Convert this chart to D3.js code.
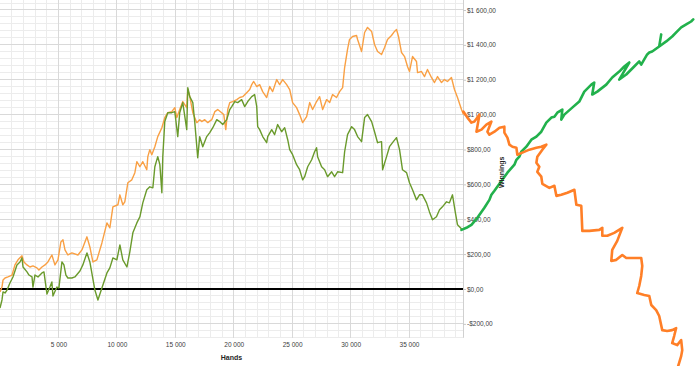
<!DOCTYPE html>
<html><head><meta charset="utf-8">
<script src="https://cdn.jsdelivr.net/npm/d3@7"></script>
<style>
html,body{margin:0;padding:0;background:#fff;}
svg{display:block;}
.tick text{font-family:"Liberation Sans",Arial,sans-serif;font-size:6.5px;fill:#404040;}
</style></head><body>
<svg id="c" width="700" height="366"></svg>
<script>
// ---- data ----
const orangeHands = [0,170,260,430,680,1030,1280,1540,1880,2050,2310,2560,2820,3160,3330,3590,3850,4100,4440,4700,4960,5210,5390,5560,5810,6150,6670,7010,7440,7690,7950,8290,8720,9150,9400,9660,10090,10260,10510,10680,10940,11280,11540,11710,11970,12220,12560,12650,12820,12990,13250,13500,13850,14100,14360,14700,14960,15130,15380,15640,15980,16070,16240,16500,16840,17090,17260,17520,17780,18120,18380,18630,18970,19150,19320,19490,19660,19910,20260,20510,20770,21110,21370,21540,21710,21970,22220,22480,22820,23080,23330,23680,23930,24190,24530,24790,25040,25380,25640,25900,26240,26500,26750,27090,27350,27610,27950,28210,28460,28800,29060,29320,29490,29740,29910,30170,30510,30600,30940,31200,31450,31800,32050,32310,32650,32910,33160,33500,33760,33930,34100,34360,34620,34870,35040,35300,35640,35730,36070,36330,36580,36920,37180,37440,37780,38030,38290,38630,38890,39150,39490,39660];
const orangeWin = [-17,11,52,63,69,80,138,167,190,155,138,126,132,121,109,126,138,155,195,138,167,270,282,224,195,207,195,224,299,241,155,167,264,379,351,471,483,540,483,500,609,626,667,730,701,730,684,759,799,770,816,874,925,983,1011,1017,1040,983,1029,1075,1040,1144,1103,1011,954,971,960,971,954,971,1017,1029,1011,1000,914,1029,1069,1075,1086,1098,1103,1126,1144,1172,1190,1161,1172,1132,1098,1161,1132,1201,1172,1201,1172,1144,1069,1040,1000,954,988,1069,1029,1075,1103,1029,1086,1069,1115,1098,1132,1155,1270,1374,1431,1448,1454,1431,1362,1471,1500,1477,1402,1362,1345,1385,1431,1454,1477,1488,1448,1356,1333,1276,1247,1333,1305,1241,1247,1218,1259,1213,1184,1218,1184,1201,1190,1213,1144,1098,1029,1000];

const greenHands = [0,170,260,430,600,850,1110,1450,1710,1880,1970,2310,2480,2740,2820,2990,3250,3590,3760,4020,4270,4440,4530,4870,5040,5300,5470,5640,5810,6150,6410,6840,7090,7440,7690,8120,8380,8720,9150,9400,9660,10000,10260,10510,10860,11110,11370,11710,11970,12220,12560,12820,13080,13250,13500,13680,13850,13930,14100,14360,14700,14960,15210,15380,15640,15980,16070,16240,16500,16670,16920,17090,17350,17690,17950,18210,18550,18800,19060,19400,19660,19830,20090,20340,20680,20940,21200,21540,21790,21970,22050,22220,22480,22820,22910,23250,23500,23760,24100,24360,24620,24790,25040,25380,25640,25900,26070,26330,26670,26920,27090,27180,27520,27780,28030,28380,28630,28890,29320,29490,29740,30090,30340,30600,30940,31200,31450,31800,32050,32310,32650,32740,33080,33330,33590,33930,34190,34440,34790,35040,35300,35640,35900,36150,36500,36750,37010,37350,37610,37860,38210,38460,38720,38970,39150,39400,39570];
const greenWin = [-109,-63,-17,-23,-6,34,69,138,155,178,126,98,80,69,11,80,69,92,98,-29,11,40,-40,11,6,155,138,80,63,63,69,103,138,207,155,-6,-63,6,92,121,178,167,253,167,126,213,322,379,414,494,569,586,580,701,759,713,552,759,960,1011,1011,1017,874,1011,1069,914,1155,1103,1069,954,753,874,816,874,897,925,971,960,943,971,1029,1046,1075,1069,1086,1046,1075,1103,1115,1046,931,914,874,839,874,914,885,943,902,925,856,799,770,713,684,626,644,701,741,787,810,759,701,684,644,672,644,672,667,787,885,931,914,874,845,983,1000,960,902,839,845,684,759,816,839,868,799,684,667,609,569,511,540,540,494,442,397,414,454,471,500,494,540,437,368,351,339];

const greenExtraHands = [39490,39910,40340,40850,41450,41880,42050,42310,42740,43420,44020,44190,44440,44610,45040,45470,45900,46320,46750,47180,47440,47690,48120,48030,48290,48970,49570,50000,50600,50850,50680,51110,51880,52390,52990,53420,53850,52990,53590,54270,54700,54870,55380,55560,55810,56410,56580,56410,57010,57520,57950,58290,58720,59140,59320];
const greenExtraWin = [339,351,368,408,466,511,540,563,603,667,713,741,759,787,816,856,874,902,954,983,988,1011,1029,971,1000,1040,1075,1132,1172,1184,1115,1132,1172,1213,1247,1276,1299,1201,1230,1276,1305,1287,1345,1356,1362,1391,1460,1391,1420,1448,1477,1500,1517,1534,1546];

const orangeExtraHands = [39660,40000,40340,40600,40850,41030,40770,41200,41620,42050,41710,41880,42310,42740,43160,43160,43420,43590,43850,44190,44270,44700,45300,45900,46320,46750,46410,45980,45900,46150,45980,46320,46410,47010,47440,47610,48030,48550,49150,49320,49740,49830,50430,51280,51540,51540,51970,52560,53250,52820,52390,52310,52740,53250,53590,54100,54870,54960,54870,54700,54530,55130,55560,55730,56150,56410,56670,57090,57520,57860,57690,57520,57950,58290,58380,58290,58030];
const orangeExtraWin = [1017,983,954,960,983,1000,902,914,943,960,902,885,902,925,931,897,868,828,816,810,770,782,799,810,816,828,799,759,724,701,672,644,603,580,592,534,540,552,569,483,477,333,333,339,351,305,305,322,351,276,224,161,167,195,178,178,178,132,75,17,-23,-34,-40,-92,-121,-155,-236,-241,-236,-224,-270,-310,-322,-293,-351,-385,-443];

const xTicks = [5000,10000,15000,20000,25000,30000,35000];
const yTicks = [-200,0,200,400,600,800,1000,1200,1400,1600];
const xDomain = [0, 39620];
const yDomain = [-280, 1680];
const xTitle = "Hands";
const yTitle = "Winnings";

// ---- layout ----
const plotL = 0, plotR = 463, plotT = -3.95, plotB = 337.8;
const x = d3.scaleLinear().domain(xDomain).range([plotL, plotR]);
const y = d3.scaleLinear().domain(yDomain).range([plotB, plotT]);
const svg = d3.select("#c");

const loc = d3.formatLocale({decimal:",", thousands:" ", grouping:[3], currency:["$",""], minus:"-"});
const fmtY = loc.format("$,.2f");
const fmtX = loc.format(",");

const g = svg.append("g");
// minor grid
const minorX = d3.range(1000, 39001, 1000).filter(v => v % 5000 !== 0);
const minorY = d3.range(-280, 1681, 40).filter(v => v % 200 !== 0);
g.selectAll(".mx").data(minorX).join("line")
  .attr("x1", d => x(d)).attr("x2", d => x(d)).attr("y1", 0).attr("y2", plotB)
  .attr("stroke", "#ececec").attr("stroke-width", 1).attr("shape-rendering","crispEdges");
g.selectAll(".my").data(minorY).join("line")
  .attr("x1", plotL).attr("x2", plotR).attr("y1", d => y(d)).attr("y2", d => y(d))
  .attr("stroke", "#ececec").attr("stroke-width", 1).attr("shape-rendering","crispEdges");
// major grid
g.selectAll(".Mx").data(xTicks).join("line")
  .attr("x1", d => x(d)).attr("x2", d => x(d)).attr("y1", 0).attr("y2", plotB)
  .attr("stroke", "#d9d9d9").attr("stroke-width", 1).attr("shape-rendering","crispEdges");
g.selectAll(".My").data(yTicks).join("line")
  .attr("x1", plotL).attr("x2", plotR).attr("y1", d => y(d)).attr("y2", d => y(d))
  .attr("stroke", "#d9d9d9").attr("stroke-width", 1).attr("shape-rendering","crispEdges");

// y axis (right)
const yAxis = svg.append("g").attr("transform", `translate(${plotR},0)`)
  .call(d3.axisRight(y).tickValues(yTicks).tickFormat(fmtY).tickSize(3).tickPadding(1));
yAxis.select(".domain").attr("stroke", "#d0d0d0").attr("d", `M0.5,0V${plotB}`);
yAxis.selectAll(".tick line").attr("stroke", "#c8c8c8");

// x axis labels
const xAxis = svg.append("g").attr("transform", `translate(0,${plotB})`)
  .call(d3.axisBottom(x).tickValues(xTicks).tickFormat(fmtX).tickSize(0).tickPadding(5));
xAxis.select(".domain").remove();

// zero line
svg.append("line").attr("x1", plotL).attr("x2", plotR).attr("y1", y(0)).attr("y2", y(0))
  .attr("stroke", "#000").attr("stroke-width", 2);

const line = d3.line().x(d => x(d[0])).y(d => y(d[1]));
const zip = (a, b) => a.map((v, i) => [v, b[i]]);

svg.append("path").datum(zip(orangeHands, orangeWin)).attr("d", line)
  .attr("fill", "none").attr("stroke", "#f9a044").attr("stroke-width", 1.4).attr("stroke-linejoin","round");
svg.append("path").datum(zip(greenHands, greenWin)).attr("d", line)
  .attr("fill", "none").attr("stroke", "#6a9a2c").attr("stroke-width", 1.4).attr("stroke-linejoin","round");

svg.append("path").datum(zip(greenExtraHands, greenExtraWin)).attr("d", line)
  .attr("fill", "none").attr("stroke", "#22b14c").attr("stroke-width", 2.6).attr("stroke-linejoin","round").attr("stroke-linecap","round");
svg.append("path").datum(zip(orangeExtraHands, orangeExtraWin)).attr("d", line)
  .attr("fill", "none").attr("stroke", "#ff7f27").attr("stroke-width", 2.6).attr("stroke-linejoin","round").attr("stroke-linecap","round");

// titles
svg.append("text").attr("x", (plotL + plotR) / 2).attr("y", 360).attr("text-anchor", "middle")
  .attr("font-family", "Liberation Sans, Arial, sans-serif").attr("font-size", 7).attr("font-weight", "bold")
  .attr("fill", "#262626").text(xTitle);
svg.append("text").attr("transform", `translate(504,${y(600) - 12}) rotate(-90)`).attr("text-anchor", "middle")
  .attr("font-family", "Liberation Sans, Arial, sans-serif").attr("font-size", 7).attr("font-weight", "bold")
  .attr("fill", "#262626").text(yTitle);
</script></body></html>
